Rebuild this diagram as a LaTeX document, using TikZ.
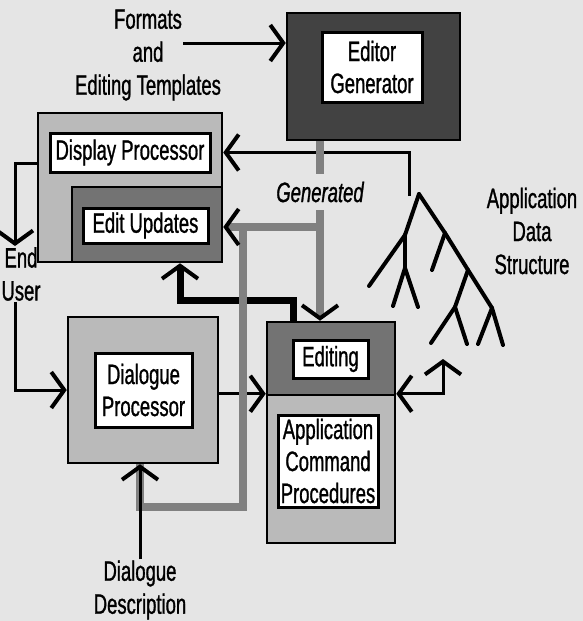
\documentclass[tikz,border=0pt]{standalone}
\usepackage{fontspec}
\setmainfont{Liberation Sans}[FakeStretch=0.66,FakeBold=1]
\usetikzlibrary{arrows.meta}

\tikzset{
        shell/.style={draw,line width=2.5pt,inner sep=0pt},
        lightshell/.style={shell,fill=black!27},
        midshell/.style={shell,fill=black!55},
        darkshell/.style={shell,fill=black!74},
        core/.style={draw,line width=3pt,fill=white,inner sep=0pt,align=center,
                font=\fontsize{28}{32}\selectfont},
        lbl/.style={align=center,inner sep=1pt,font=\fontsize{28}{33}\selectfont},
        barb/.style={-{Straight Barb[length=13pt,width=36pt,line width=4pt,color=black]}},
        twobarb/.style={{Straight Barb[length=13pt,width=36pt,line width=4pt]}-{Straight Barb[length=13pt,width=36pt,line width=4pt]}},
        wire/.style={line width=3pt},
        feed/.style={line width=7pt},
        genline/.style={line width=8pt,draw=black!50},
        twig/.style={line width=4pt,line cap=round,line join=round}
}

\begin{document}
\begin{tikzpicture}[x=1pt,y=-1pt]
        % the paper
        \useasboundingbox (0,0) rectangle (583,621);
        \fill[black!10] (0,0) rectangle (583,621);

        % editor generator
        \node[darkshell,minimum width=173pt,minimum height=127pt] (egen) at (373.5,76.5) {};
        \node[core,minimum width=100pt,minimum height=70pt] (egen-in) at (372,67) {Editor\\Generator};

        % display processor and edit updates
        \node[lightshell,minimum width=184pt,minimum height=149pt] (disp) at (130,187.5) {};
        \node[midshell,minimum width=150pt,minimum height=75pt] (upd) at (147,224.5) {};
        \node[core,minimum width=160pt,minimum height=39pt] (disp-in) at (130,152.5) {Display Processor};
        \node[core,minimum width=125pt,minimum height=35pt] (upd-in) at (145.5,225.5) {Edit Updates};

        % dialogue processor
        \node[lightshell,minimum width=150pt,minimum height=146pt] (dlg) at (143,390) {};
        \node[core,minimum width=97pt,minimum height=74pt] (dlg-in) at (143.5,390) {Dialogue\\Processor};

        % editing and application command procedures
        \node[midshell,minimum width=128pt,minimum height=73pt] (edit) at (331,358.5) {};
        \node[lightshell,minimum width=128pt,minimum height=148pt] (app) at (331,469) {};
        \node[core,minimum width=75pt,minimum height=38pt] (edit-in) at (330.5,359) {Editing};
        \node[core,minimum width=100pt,minimum height=92pt] (app-in) at (328,461) {Application\\Command\\Procedures};

        % outside texts
        \node[lbl] (fmt) at (148,55) {Formats\\and\\Editing Templates};
        \node[lbl] (user) at (21,274) {End\\User};
        \node[lbl] (desc) at (140,590) {Dialogue\\Description};
        \node[lbl] (ads) at (532,231) {Application\\Data\\Structure};
        \node[lbl,font=\fontsize{28}{33}\selectfont\itshape,inner ysep=8pt] (gen) at (320,192) {Generated};

        % the data structure tree
        \foreach \xa/\ya/\xb/\yb in {419/194/445/233, 445/233/468/270, 468/270/492/308, 492/308/503/345,
                        419/194/405/235, 405/235/369/286, 405/235/405/268, 405/268/393/306, 405/268/418/307,
                        445/233/432/270, 468/270/455/307, 455/307/431/343, 455/307/467/344, 492/308/478/344} {
                \draw[twig] (\xa,\ya) -- (\xb,\yb);
        }
        \coordinate (tree-tap) at (409,196);
        \coordinate (tree-foot) at (443,359);

        % thin connectors
        \coordinate (fmt-out) at (183,43);
        \draw[wire,barb] (fmt-out) -- (fmt-out -| egen.west);
        \draw[wire,barb] (tree-tap) |- (disp-in -| disp.east);
        \draw[wire,barb] ([yshift=-52pt]disp.north west) -| ([xshift=-6pt]user.north);
        \draw[wire,barb] ([xshift=-6pt]user.south) |- (dlg.west);
        \draw[wire,barb] (app.north west -| dlg.east) -- (app.north west);
        \draw[wire,twobarb] (app.north east) -| (tree-foot);

        % black feedback line
        \coordinate (feed-turn) at (180,300);
        \draw[feed,barb] ([xshift=-38pt]edit.north) |- (feed-turn) -- (upd.south -| feed-turn);

        % generated lines
        \coordinate (split) at (320,227);
        \coordinate (drop) at (243,227);
        \coordinate (drop-low) at (243,507);
        \draw[genline] (egen.south -| gen) -- (gen.north);
        \draw[genline] (drop) -- (drop-low) -| (dlg.south -| desc.north);
        \draw[genline,barb] (split) -- (split -| upd.east);
        \draw[genline,barb] (gen.south) -- (edit.north -| gen);
        \draw[wire,barb] (desc.north) -- (desc.north |- dlg.south);
\end{tikzpicture}
\end{document}
